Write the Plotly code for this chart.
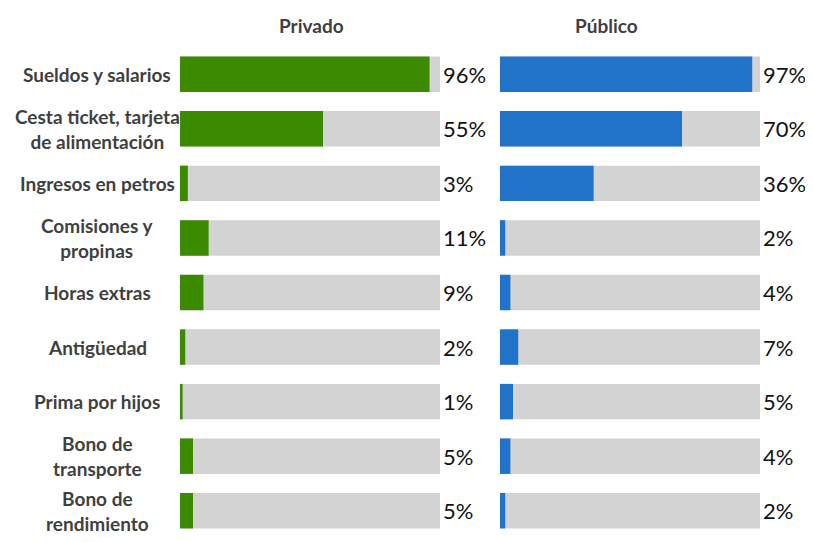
import plotly.graph_objects as go
from plotly.subplots import make_subplots

categorias = [
    "Sueldos y salarios",
    "Cesta ticket, tarjeta<br>de alimentación",
    "Ingresos en petros",
    "Comisiones y<br>propinas",
    "Horas extras",
    "Antigüedad",
    "Prima por hijos",
    "Bono de<br>transporte",
    "Bono de<br>rendimiento",
]
privado = [96, 55, 3, 11, 9, 2, 1, 5, 5]
publico = [97, 70, 36, 2, 4, 7, 5, 4, 2]
total = [100] * len(categorias)

verde = "#3b8a00"
azul = "#2172c9"
gris = "#d3d3d3"
texto = "#3f3f3f"

fig = make_subplots(rows=1, cols=2, shared_yaxes=True)

for col, valores, color in [(1, privado, verde), (2, publico, azul)]:
    # barra de fondo (100%) con la etiqueta del porcentaje
    fig.add_trace(
        go.Bar(
            x=total,
            y=categorias,
            orientation="h",
            marker=dict(color=gris, line=dict(width=0)),
            text=[f"{v}%" for v in valores],
            textposition="outside",
            textfont=dict(family="Lato", size=22, color="#111111"),
            cliponaxis=False,
            showlegend=False,
            hoverinfo="skip",
        ),
        row=1,
        col=col,
    )
    fig.add_trace(
        go.Bar(
            x=valores,
            y=categorias,
            orientation="h",
            marker=dict(color=color, line=dict(width=0)),
            showlegend=False,
        ),
        row=1,
        col=col,
    )

# etiquetas de las categorías, centradas
for cat in categorias:
    fig.add_annotation(
        x=0.1106, xref="paper", y=cat, yref="y",
        text=f"<b>{cat}</b>", showarrow=False, align="center",
        xanchor="center", font=dict(family="Lato", size=19, color=texto),
    )

for x, titulo in [(0.3776, "Privado"), (0.785, "Público")]:
    fig.add_annotation(
        x=x, xref="paper", y=1.043, yref="paper", yanchor="middle",
        text=f"<b>{titulo}</b>", showarrow=False,
        font=dict(family="Lato", size=19, color=texto),
    )

fig.update_xaxes(range=[0, 100], visible=False)
fig.update_yaxes(
    categoryorder="array", categoryarray=categorias, autorange="reversed",
    showticklabels=False, showgrid=False, zeroline=False,
)
fig.update_layout(
    barmode="overlay",
    bargap=0.35,
    width=805,
    height=534,
    margin=dict(l=0, r=0, t=39, b=4),
    xaxis=dict(domain=[0.2137, 0.5366]),
    xaxis2=dict(domain=[0.6112, 0.9342]),
    plot_bgcolor="white",
    paper_bgcolor="white",
)

fig.write_html("out.html")
